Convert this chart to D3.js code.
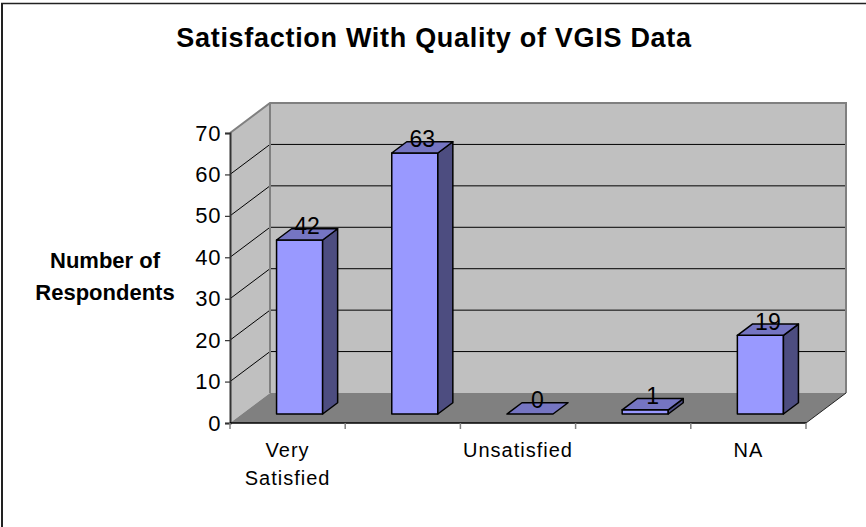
<!DOCTYPE html>
<html>
<head>
<meta charset="utf-8">
<script src="https://cdn.jsdelivr.net/npm/d3@7"></script>
<style>
  html, body { margin: 0; padding: 0; background: #fff; }
  svg { display: block; font-family: "Liberation Sans", Arial, sans-serif; }
</style>
</head>
<body>
<svg id="chart" width="866" height="527"></svg>
<script>
// ---- data ----
const title = "Satisfaction With Quality of VGIS Data";
const yTitleLines = ["Number of", "Respondents"];
const tickLabels = [["Very", "Satisfied"], [], ["Unsatisfied"], [], ["NA"]];
const values = [42, 63, 0, 1, 19];
const yTicks = [0, 10, 20, 30, 40, 50, 60, 70];

// ---- layout ----
const svg = d3.select("#chart");
const X0 = 230, X1 = 806, Y0 = 423, Y1 = 133;
const DX = 40, DY = 30;          // depth offset of back wall
const D0 = 0.3, D1 = 0.675;      // bar depth range (fraction)

const x = d3.scaleBand().domain(d3.range(values.length)).range([X0, X1])
  .paddingInner(0.6).paddingOuter(0.3);
const y = d3.scaleLinear().domain([0, 70]).range([Y0, Y1]);
const step = x.step();

const P = (px, v, d) => [px + DX * d, y(v) - DY * d];
const poly = pts => pts.map(p => p.join(",")).join(" ");

// border
svg.append("line").attr("x1", 2).attr("y1", 3).attr("x2", 2).attr("y2", 527)
  .attr("stroke", "#222").attr("stroke-width", 2);
svg.append("line").attr("x1", 1).attr("y1", 3.5).attr("x2", 866).attr("y2", 3.5)
  .attr("stroke", "#222").attr("stroke-width", 1.5);

// title
svg.append("text").attr("x", 434).attr("y", 47).attr("text-anchor", "middle")
  .attr("font-size", 27).attr("font-weight", "bold").attr("letter-spacing", 0.7)
  .text(title);

// walls
svg.append("polygon").attr("points", poly([P(X0, 70, 0), P(X0, 70, 1), P(X0, 0, 1), P(X0, 0, 0)]))
  .attr("fill", "#c0c0c0");
svg.append("polygon").attr("points", poly([P(X0, 70, 1), P(X1, 70, 1), P(X1, 0, 1), P(X0, 0, 1)]))
  .attr("fill", "#c0c0c0");
// floor
svg.append("polygon").attr("points", poly([P(X0, 0, 0), P(X1, 0, 0), P(X1, 0, 1), P(X0, 0, 1)]))
  .attr("fill", "#808080");

// gridlines
const inner = yTicks.filter(t => t > 0 && t < 70);
svg.append("g").selectAll("line.gb").data(inner).join("line")
  .attr("x1", X0 + DX).attr("x2", X1 + DX)
  .attr("y1", d => y(d) - DY).attr("y2", d => y(d) - DY)
  .attr("stroke", "#000").attr("stroke-width", 1);
svg.append("g").selectAll("line.gl").data(inner).join("line")
  .attr("x1", X0).attr("x2", X0 + DX)
  .attr("y1", d => y(d)).attr("y2", d => y(d) - DY)
  .attr("stroke", "#000").attr("stroke-width", 1);

// wall edges (gray)
svg.append("polyline").attr("points", poly([P(X0, 70, 0), P(X0, 70, 1), P(X1, 70, 1), P(X1, 0, 1)]))
  .attr("fill", "none").attr("stroke", "#808080").attr("stroke-width", 2);
svg.append("line").attr("x1", X0 + DX).attr("x2", X0 + DX).attr("y1", y(70) - DY).attr("y2", y(0) - DY)
  .attr("stroke", "#808080").attr("stroke-width", 2);
// floor right edge
svg.append("line").attr("x1", X1).attr("y1", y(0)).attr("x2", X1 + DX).attr("y2", y(0) - DY)
  .attr("stroke", "#222").attr("stroke-width", 1);

// y axis
const yAxis = d3.axisLeft(y).tickValues(yTicks).tickSize(5).tickPadding(4);
const gy = svg.append("g").attr("transform", `translate(${X0},0)`).call(yAxis);
gy.select(".domain").attr("stroke", "#333").attr("stroke-width", 2);
gy.selectAll(".tick line").attr("stroke", "#333").attr("stroke-width", 1.2);
gy.selectAll(".tick text").attr("font-size", 22).attr("letter-spacing", 0.6)
  .attr("font-family", "Liberation Sans, Arial, sans-serif").attr("fill", "#000");

// x axis line + ticks
svg.append("line").attr("x1", X0).attr("x2", X1).attr("y1", Y0).attr("y2", Y0)
  .attr("stroke", "#000").attr("stroke-width", 1.5);
const bounds = d3.range(values.length + 1).map(i => X0 + i * step);
svg.append("g").selectAll("line").data(bounds).join("line")
  .attr("x1", d => d).attr("x2", d => d).attr("y1", Y0).attr("y2", Y0 + 6)
  .attr("stroke", "#808080").attr("stroke-width", 1.5);

// category labels
const cl = svg.append("g").attr("font-size", 20).attr("letter-spacing", 1).attr("text-anchor", "middle");
tickLabels.forEach((lines, i) => {
  lines.forEach((t, j) => {
    cl.append("text").attr("x", x(i) + x.bandwidth() / 2).attr("y", 457 + j * 28).text(t);
  });
});

// y title
const yt = svg.append("g").attr("font-size", 22).attr("font-weight", "bold").attr("text-anchor", "middle");
yTitleLines.forEach((t, j) => {
  yt.append("text").attr("x", 105).attr("y", 268 + j * 32).text(t);
});

// bars
const bars = svg.append("g").attr("stroke", "#000").attr("stroke-width", 1.5).attr("stroke-linejoin", "round");
values.forEach((v, i) => {
  const xl = x(i), xr = x(i) + x.bandwidth();
  if (v > 0) {
    bars.append("polygon").attr("fill", "#9999ff")
      .attr("points", poly([P(xl, 0, D0), P(xr, 0, D0), P(xr, v, D0), P(xl, v, D0)]));
    bars.append("polygon").attr("fill", "#4d4d80")
      .attr("points", poly([P(xr, 0, D0), P(xr, 0, D1), P(xr, v, D1), P(xr, v, D0)]));
  }
  bars.append("polygon").attr("fill", "#7575c2")
    .attr("points", poly([P(xl, v, D0), P(xr, v, D0), P(xr, v, D1), P(xl, v, D1)]));
});

// data labels
const dm = (D0 + D1) / 2;
svg.append("g").attr("font-size", 23).attr("text-anchor", "middle")
  .selectAll("text").data(values).join("text")
  .attr("x", (d, i) => x(i) + x.bandwidth() / 2 + DX * dm)
  .attr("y", d => y(d) - DY * dm)
  .text(d => d);
</script>
</body>
</html>
